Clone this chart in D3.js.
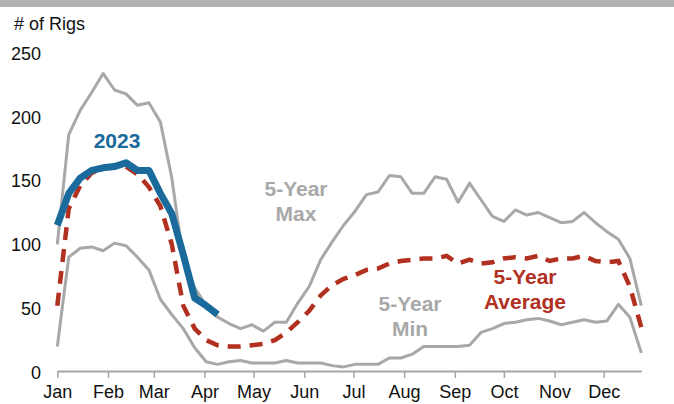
<!DOCTYPE html>
<html>
<head>
<meta charset="utf-8">
<script src="https://cdnjs.cloudflare.com/ajax/libs/d3/7.8.5/d3.min.js"></script>
<style>
  body { margin: 0; background: #fff; font-family: "Liberation Sans", Arial, sans-serif; }
  svg text { font-family: "Liberation Sans", Arial, sans-serif; }
</style>
</head>
<body>
<svg width="674" height="404"></svg>
<script>
// weekly rig counts, one value per week starting Jan 1
var maxVals = [100,186,205,219,234,221,218,209,211,196,152,88,66,52,43,38,34,37,32,39,39,54,67,88,102,115,
               126,139,141,154,153,140,140,153,151,133,148,135,122,118,127,123,125,121,117,118,125,117,110,104,89,52];
var minVals = [20,90,97,98,95,101,99,90,80,57,45,34,19,8,6,8,9,7,7,7,9,7,7,7,5,4,
               6,6,6,11,11,14,20,20,20,20,21,31,34,38,39,41,42,40,37,39,41,39,40,53,43,15];
var avgVals = [52,128,146,156,160,161,161,155,145,130,100,52,34,25,21,20,20,21,22,25,31,39,48,60,68,73,
               76,80,81,85,87,88,89,89,91,85,88,85,86,89,90,89,91,87,89,89,91,87,86,87,67,35];
var vals2023 = [115,140,152,158,160,161,164,158,158,140,124,92,58,52,45];
var yTicks = [0, 50, 100, 150, 200, 250];

var svg = d3.select("svg");

// grey band across the top
svg.append("rect").attr("x", 0).attr("y", 0).attr("width", 674).attr("height", 7).attr("fill", "#b2b2b2");

function weekDate(i) { return new Date(2023, 0, 1 + 7 * i); }

var x = d3.scaleTime()
    .domain([weekDate(0), weekDate(51)])
    .range([57.3, 641.3]);

var y = d3.scaleLinear()
    .domain([0, 250])
    .range([372, 53]);

// y labels, no axis line
var yAxis = svg.append("g")
    .attr("transform", "translate(41,0)")
    .call(d3.axisLeft(y).tickValues(yTicks).tickSize(0).tickPadding(0).tickFormat(d3.format("d")));
yAxis.select(".domain").remove();
yAxis.selectAll("text").attr("font-size", 18).attr("fill", "#111").attr("dy", "0.35em");

// x axis with month ticks
var xAxis = svg.append("g")
    .attr("transform", "translate(0,371)")
    .call(d3.axisBottom(x)
        .ticks(d3.timeMonth.every(1))
        .tickFormat(d3.timeFormat("%b"))
        .tickSizeInner(7).tickSizeOuter(0).tickPadding(7));
xAxis.select(".domain").attr("stroke", "#a6a6a6").attr("stroke-width", 2);
xAxis.selectAll(".tick line").attr("stroke", "#a6a6a6").attr("stroke-width", 1.5);
xAxis.selectAll("text").attr("font-size", 18).attr("fill", "#111");

svg.append("text")
    .attr("x", 14).attr("y", 30)
    .attr("font-size", 18)
    .attr("fill", "#111")
    .text("# of Rigs");

var line = d3.line()
    .x(function(d, i) { return x(weekDate(i)); })
    .y(function(d) { return y(d); });

svg.append("path").datum(maxVals)
    .attr("d", line).attr("fill", "none")
    .attr("stroke", "#a8a8a8").attr("stroke-width", 3).attr("stroke-linejoin", "round");

svg.append("path").datum(minVals)
    .attr("d", line).attr("fill", "none")
    .attr("stroke", "#a8a8a8").attr("stroke-width", 3).attr("stroke-linejoin", "round");

svg.append("path").datum(avgVals)
    .attr("d", line).attr("fill", "none")
    .attr("stroke", "#b1301f").attr("stroke-width", 4.5)
    .attr("stroke-dasharray", "13,9");

svg.append("path").datum(vals2023)
    .attr("d", line).attr("fill", "none")
    .attr("stroke", "#1a6a9c").attr("stroke-width", 7).attr("stroke-linejoin", "round");

// series labels
function label(lines, cx, y0, color) {
    var t = svg.append("text")
        .attr("text-anchor", "middle")
        .attr("font-size", 21)
        .attr("font-weight", "bold")
        .attr("fill", color);
    lines.forEach(function(s, k) {
        t.append("tspan").attr("x", cx).attr("y", y0 + k * 25).text(s);
    });
}
label(["2023"], 117, 148, "#1a6a9c");
label(["5-Year", "Max"], 296, 196, "#a8a8a8");
label(["5-Year", "Min"], 410, 311, "#a8a8a8");
label(["5-Year", "Average"], 525, 284, "#b1301f");
</script>
</body>
</html>
